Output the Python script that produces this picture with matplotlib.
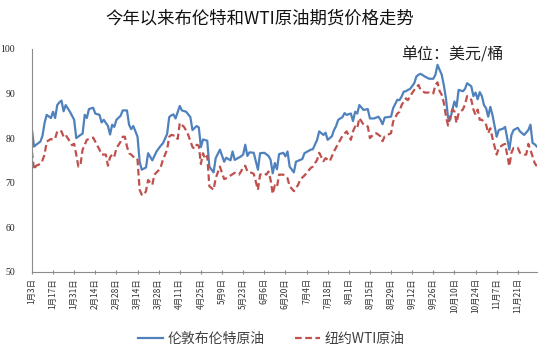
import numpy as np
import pandas as pd
import matplotlib
matplotlib.use("Agg")
import matplotlib.pyplot as plt

plt.rcParams['font.family'] = ['Noto Sans CJK SC', 'DejaVu Sans']

# 交易日序号（自2023年1月3日起的工作日）与价格（美元/桶）
brent_day = [0, 1, 2, 4, 5, 6, 7, 9, 10, 11, 12, 13, 14, 15, 16, 18, 20, 21, 23, 24,
             25, 26, 27, 29, 30, 32, 33, 34, 36, 37, 38, 39, 40, 42, 43, 45, 46, 47, 48, 49,
             50, 51, 52, 54, 55, 57, 59, 61, 62, 64, 65, 66, 67, 68, 70, 71, 73, 75, 76, 78,
             79, 80, 81, 83, 84, 86, 87, 89, 91, 92, 94, 95, 96, 99, 100, 101, 102, 103, 105, 107,
             108, 110, 112, 113, 114, 115, 116, 117, 119, 120, 121, 122, 124, 125, 127, 128, 129, 132, 133, 135,
             136, 138, 139, 140, 142, 143, 144, 145, 147, 148, 149, 151, 152, 153, 154, 155, 157, 159, 160, 162,
             164, 165, 166, 167, 170, 171, 173, 174, 175, 176, 177, 178, 179, 181, 182, 183, 184, 186, 188, 190,
             191, 192, 193, 194, 195, 196, 197, 198, 199, 200, 201, 202, 204, 205, 206, 208, 209, 210, 211, 212,
             213, 214, 215, 216, 217, 218, 220, 221, 223, 224, 226, 227, 228, 230, 231, 233, 235, 236, 237, 238,
             239]
brent = [82.0, 78.1, 78.5, 79.2, 80.5, 83.4, 85.2, 84.5, 85.9, 84.5, 87.4, 88.0, 88.4, 86.0, 87.4, 85.9, 84.1, 80.0, 80.7, 81.0,
         85.2, 84.5, 86.5, 86.8, 85.5, 85.2, 83.5, 84.1, 82.7, 80.8, 83.0, 82.5, 84.1, 85.0, 86.2, 86.2, 83.0, 82.0, 82.7, 81.5,
         80.3, 74.7, 72.9, 73.4, 76.6, 75.0, 77.0, 78.3, 78.8, 80.9, 84.7, 85.1, 85.3, 84.4, 87.2, 86.2, 85.9, 84.7, 81.8, 82.7,
         82.4, 78.0, 79.7, 79.4, 73.6, 72.3, 75.5, 77.4, 74.7, 75.6, 75.0, 77.0, 75.1, 75.9, 76.3, 78.5, 76.0, 76.8, 76.7, 72.9,
         76.6, 76.7, 76.0, 75.1, 72.1, 74.4, 73.0, 76.4, 76.7, 75.9, 77.0, 73.6, 72.3, 74.7, 75.1, 75.3, 76.6, 77.4, 77.5, 79.6,
         81.5, 80.7, 81.2, 79.6, 80.4, 81.8, 82.7, 84.1, 84.7, 85.6, 85.2, 85.5, 83.8, 85.9, 85.5, 87.4, 86.3, 86.5, 84.4, 84.4,
         84.8, 84.1, 83.1, 84.6, 84.8, 86.7, 88.6, 88.5, 89.3, 90.4, 90.5, 90.8, 91.0, 92.3, 93.8, 94.2, 94.4, 93.8, 93.3, 93.3,
         94.2, 96.4, 95.3, 94.2, 91.8, 88.9, 84.5, 84.1, 86.3, 88.2, 87.0, 90.8, 90.5, 91.0, 92.3, 91.6, 89.4, 90.2, 88.7, 90.3,
         89.4, 87.4, 86.7, 84.8, 87.0, 85.2, 80.3, 81.8, 82.1, 82.5, 77.4, 80.7, 81.8, 82.3, 81.5, 80.7, 81.8, 83.0, 78.9, 78.6,
         78.1]

wti_day = [0, 1, 2, 4, 5, 6, 7, 9, 10, 11, 12, 13, 14, 15, 16, 18, 19, 20, 21, 22,
           23, 24, 25, 26, 27, 29, 30, 32, 33, 35, 36, 37, 38, 39, 40, 42, 43, 44, 45, 46,
           47, 48, 49, 50, 51, 52, 53, 54, 55, 57, 58, 60, 61, 62, 64, 65, 66, 68, 69, 70,
           72, 73, 74, 76, 77, 78, 79, 80, 81, 82, 83, 84, 86, 87, 89, 91, 92, 94, 96, 98,
           99, 100, 101, 102, 103, 105, 107, 108, 110, 111, 112, 113, 114, 115, 116, 117, 119, 121, 122, 124,
           126, 127, 129, 132, 133, 135, 136, 138, 139, 141, 143, 144, 146, 147, 149, 151, 152, 153, 154, 155,
           157, 159, 160, 162, 163, 165, 166, 167, 170, 171, 173, 174, 175, 177, 178, 179, 181, 182, 183, 184,
           186, 188, 189, 190, 191, 192, 193, 194, 195, 196, 197, 198, 199, 200, 201, 202, 204, 205, 206, 208,
           209, 210, 211, 212, 213, 215, 216, 217, 218, 220, 221, 223, 224, 226, 227, 228, 230, 231, 233, 234,
           235, 237, 238, 239]
wti = [77.0, 72.9, 73.8, 74.2, 75.0, 76.3, 79.2, 79.8, 79.6, 79.9, 81.5, 81.7, 81.5, 80.3, 80.7, 79.2, 78.4, 78.7, 76.3, 73.6,
       74.0, 77.4, 78.5, 79.6, 79.8, 80.1, 79.2, 77.4, 76.3, 76.3, 73.8, 75.7, 76.3, 75.8, 77.7, 79.2, 80.3, 80.3, 78.1, 76.6,
       76.3, 75.8, 75.8, 75.1, 68.4, 67.3, 67.2, 68.1, 70.6, 69.5, 71.8, 72.8, 73.5, 75.1, 77.4, 80.3, 80.7, 80.5, 79.8, 83.4,
       82.5, 81.7, 80.7, 78.0, 77.6, 78.5, 78.3, 74.2, 76.6, 75.3, 76.0, 69.2, 68.4, 71.0, 73.6, 70.8, 71.0, 71.6, 72.2, 71.8,
       72.5, 73.5, 73.8, 72.5, 72.4, 72.0, 68.4, 71.8, 72.1, 71.8, 72.5, 70.6, 67.5, 69.4, 69.0, 71.8, 71.8, 71.0, 69.2, 68.1,
       69.5, 70.7, 71.6, 73.3, 73.6, 75.1, 76.7, 74.8, 75.5, 74.8, 77.0, 77.9, 79.6, 80.5, 81.5, 79.6, 81.5, 82.6, 82.2, 84.5,
       83.0, 82.6, 80.0, 81.0, 81.1, 80.4, 79.3, 80.4, 81.1, 83.7, 85.5, 85.9, 87.4, 88.9, 88.5, 89.4, 90.8, 91.4, 91.9, 90.8,
       90.2, 90.2, 89.9, 90.0, 91.9, 92.5, 90.5, 89.7, 87.9, 84.9, 82.8, 84.9, 86.4, 86.0, 83.4, 85.6, 86.4, 87.5, 89.4, 88.6,
       86.4, 85.2, 86.4, 84.1, 84.1, 83.0, 81.1, 82.2, 80.0, 76.3, 77.8, 78.5, 78.7, 73.7, 76.7, 77.8, 77.8, 76.7, 76.3, 76.3,
       78.7, 75.9, 74.4, 73.7]

dates = pd.bdate_range("2023-01-03", periods=240)
tick_days = list(range(0, 231, 10))
tick_labels = [f"{d.month}月{d.day}日" for d in dates[tick_days]]

fig = plt.figure(figsize=(5.5, 3.62), dpi=100)
ax = fig.add_axes([0.058, 0.249, 0.918, 0.616])

ax.plot(brent_day, brent, color="#4F81BD", lw=1.6, label="伦敦布伦特原油")
ax.plot(wti_day, wti, color="#C0504D", lw=1.6, ls=(0, (3, 1.6)), label="纽约WTI原油")

ax.set_xlim(0, 239)
ax.set_ylim(50, 100)
ax.set_yticks(range(50, 101, 10))
for s in ["top", "right"]:
    ax.spines[s].set_visible(False)
for s in ["left", "bottom"]:
    ax.spines[s].set_color("#8c8c8c")
    ax.spines[s].set_linewidth(0.8)

ax.tick_params(axis="y", length=0, pad=12, labelsize=7, labelcolor="#222222")
for t in ax.get_yticklabels():
    t.set_family("Liberation Serif")
ax.set_xticks(tick_days)
ax.set_xticklabels(tick_labels, rotation=90, fontsize=6)
ax.tick_params(axis="x", direction="inout", length=3, color="#8c8c8c", pad=3, labelcolor="#333333")

fig.text(0.473, 0.95, "今年以来布伦特和WTI原油期货价格走势", ha="center", va="center", fontsize=12.5, color="#111111")
fig.text(0.73, 0.848, "单位：美元/桶", ha="left", va="center", fontsize=11.5, color="#222222")

fig.legend(loc="center", bbox_to_anchor=(0.493, 0.064), ncol=2, frameon=False, fontsize=10,
           handlelength=1.8, handletextpad=0.3, columnspacing=2.2, labelcolor="#404040")

fig.savefig("out.png", dpi=100)
